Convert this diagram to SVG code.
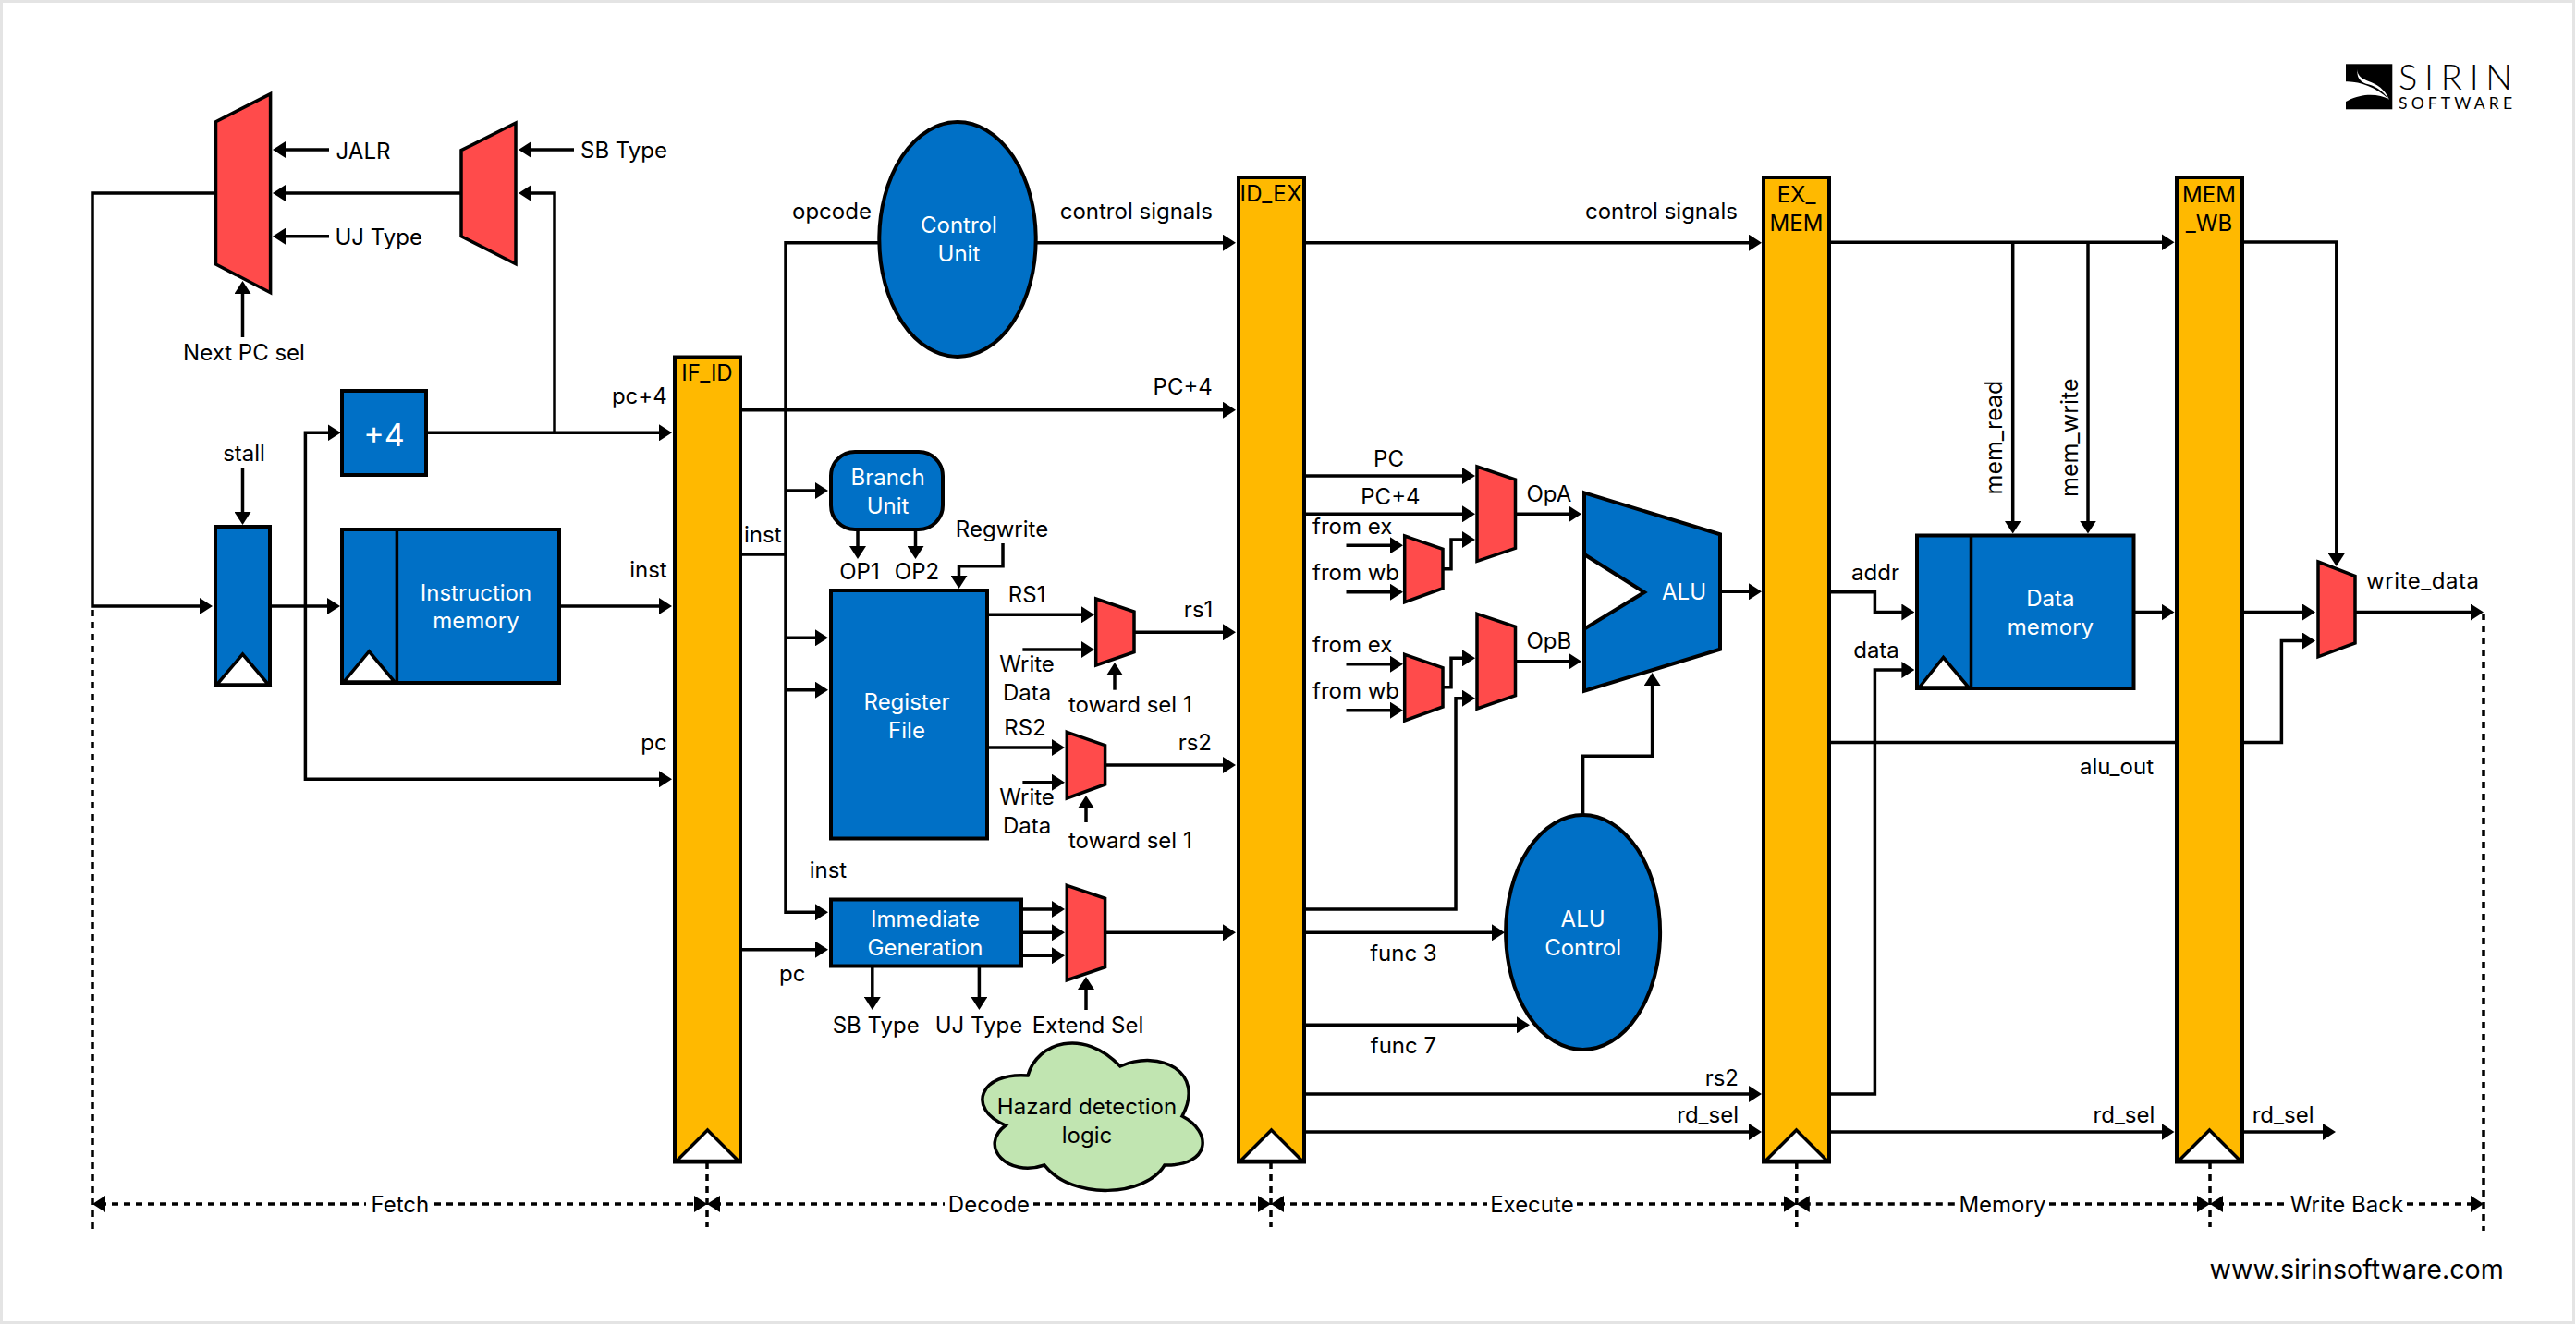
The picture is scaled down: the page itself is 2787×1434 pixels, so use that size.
<svg xmlns="http://www.w3.org/2000/svg" width="2787" height="1434" viewBox="0 0 2787 1434">
<style>
text{font-family:Inter,"Liberation Sans",sans-serif;font-size:24px;fill:#000}
.w{fill:#fff}
.m{text-anchor:middle}
.e{text-anchor:end}
.c path,.c line{fill:none;stroke:#000;stroke-width:3.5}
.a{marker-end:url(#h)}
.d{stroke-dasharray:7 6}
.blue{fill:#0070c6;stroke:#000;stroke-width:4}
.mux{fill:#ff4b4b;stroke:#000;stroke-width:3.5}
.reg{fill:#ffb900;stroke:#000;stroke-width:4}
.tri{fill:#fff;stroke:#000;stroke-width:3.5;stroke-linejoin:miter}
</style>
<defs>
<marker id="h" markerUnits="userSpaceOnUse" markerWidth="14" markerHeight="18" refX="6" refY="9" orient="auto-start-reverse"><path d="M0,0L14,9L0,18Z" fill="#000"/></marker>
</defs>
<rect x="0" y="0" width="2787" height="1434" fill="#fff"/>
<rect x="1.5" y="1.5" width="2783" height="1430" fill="none" stroke="#e4e4e4" stroke-width="3"/>

<g id="connectors" class="c">
<path class="a" d="M233.5,209H100V656H222"/>
<path class="a" d="M499,209H303"/>
<path class="a" d="M356,162H303"/>
<path class="a" d="M356,255.7H303"/>
<path class="a" d="M621,162H569"/>
<path class="a" d="M600,468V209H569"/>
<path class="a" d="M262.5,365V312"/>
<path class="a" d="M262.5,506.7V560"/>
<path class="a" d="M461,468.3H719"/>
<path class="a" d="M293,656H360"/>
<path class="a" d="M330.4,656V468.3H360.7"/>
<path class="a" d="M330.4,656V843.3H719"/>
<path class="a" d="M605,656H719"/>
<path class="a" d="M952,262.7H850V987.3H888"/>
<path d="M801,600H850"/>
<path class="a" d="M850,531H888"/>
<path class="a" d="M850,690.3H888"/>
<path class="a" d="M850,746.7H888"/>
<path class="a" d="M801,1027.7H888"/>
<path class="a" d="M1121,262.7H1329"/>
<path class="a" d="M801,443.7H1329"/>
<path class="a" d="M928,573V597"/>
<path class="a" d="M990.5,573V597"/>
<path class="a" d="M1085,588V612.7H1037.5V629"/>
<path class="a" d="M1068,665.3H1176"/>
<path class="a" d="M1106.4,703H1176"/>
<path class="a" d="M1227,684.3H1329"/>
<path class="a" d="M1206,746.7V725"/>
<path class="a" d="M1068,809H1144"/>
<path class="a" d="M1106.4,846.7H1144"/>
<path class="a" d="M1195.6,828H1329"/>
<path class="a" d="M1175,890V869"/>
<path class="a" d="M1105,984H1144"/>
<path class="a" d="M1105,1009.3H1144"/>
<path class="a" d="M1105,1034.3H1144"/>
<path class="a" d="M943.8,1046V1085"/>
<path class="a" d="M1059.4,1046V1085"/>
<path class="a" d="M1175,1093V1065"/>
<path class="a" d="M1195.6,1009.3H1329"/>
<path class="a" d="M1411,262.7H1898"/>
<path class="a" d="M1411,515H1588"/>
<path class="a" d="M1411,556.3H1588"/>
<path class="a" d="M1456.5,590.3H1510"/>
<path class="a" d="M1456.5,640.7H1510"/>
<path class="a" d="M1456.5,718.7H1510"/>
<path class="a" d="M1456.5,768.7H1510"/>
<path class="a" d="M1561,615.7H1570V584H1588"/>
<path class="a" d="M1561,743.7H1570V712.3H1588"/>
<path class="a" d="M1639.5,556.3H1703"/>
<path class="a" d="M1639.5,715.7H1703"/>
<path class="a" d="M1411,984H1575V755.7H1588"/>
<path class="a" d="M1861,640.3H1898"/>
<path class="a" d="M1712.6,882V818.3H1787.6V736"/>
<path class="a" d="M1411,1009.3H1620"/>
<path class="a" d="M1411,1109.3H1647"/>
<path class="a" d="M1411,1184H1898"/>
<path class="a" d="M1411,1225H1898"/>
<path class="a" d="M1980,262.2H2344.5"/>
<path class="a" d="M2177.7,262V569.6"/>
<path class="a" d="M2259,262V569.6"/>
<path class="a" d="M1980,640.7H2028.4V662.5H2063.4"/>
<path class="a" d="M1980,1184H2028.4V725H2063.4"/>
<path class="a" d="M2308.4,662.5H2344.5"/>
<path d="M1980,803.6H2354"/>
<path class="a" d="M2427,803.6H2468.4V693.5H2497"/>
<path class="a" d="M1980,1225H2344.5"/>
<path class="a" d="M2427,262H2527.8V605"/>
<path class="a" d="M2427,662.5H2497"/>
<path class="a" d="M2548,662.5H2679"/>
<path class="a" d="M2427,1225H2519"/>
<path class="d" d="M100,660V1332"/>
<path class="d" d="M765,1258V1328"/>
<path class="d" d="M1375,1258V1328"/>
<path class="d" d="M1943.8,1258V1328"/>
<path class="d" d="M2391,1258V1328"/>
<path class="d" d="M2687,664V1332"/>
<path class="d" style="marker-start:url(#h)" d="M108,1303H396"/>
<path class="d a" d="M470,1303H757"/>
<path class="d" style="marker-start:url(#h)" d="M773,1303H1022"/>
<path class="d a" d="M1118,1303H1367"/>
<path class="d" style="marker-start:url(#h)" d="M1383,1303H1609"/>
<path class="d a" d="M1706,1303H1935.8"/>
<path class="d" style="marker-start:url(#h)" d="M1951.8,1303H2116"/>
<path class="d a" d="M2217,1303H2383"/>
<path class="d" style="marker-start:url(#h)" d="M2399,1303H2474"/>
<path class="d a" d="M2604,1303H2679"/>
</g>

<g id="mux-pc"><path class="mux" d="M292.6,101.7V316.7L233.5,286V131.7Z"/></g>
<g id="mux-branch"><path class="mux" d="M558,133V285.7L499,255.7V162.7Z"/></g>
<g id="pc-reg"><rect class="blue" x="233" y="570" width="59" height="171"/><path class="tri" d="M262.5,708L290.6,741H234.5Z"/></g>
<g id="plus4"><rect class="blue" x="370" y="423" width="91" height="91"/><text class="w m" x="415.6" y="483" style="font-size:34px">+4</text></g>
<g id="imem"><rect class="blue" x="370" y="573" width="235" height="166"/><path fill="none" stroke="#000" stroke-width="3.5" d="M429.4,573V739"/><path class="tri" d="M399.3,705L427,738H372Z"/><text class="w m" x="515" y="650">Instruction</text><text class="w m" x="515" y="680">memory</text></g>
<g id="if-id"><rect class="reg" x="730" y="386.5" width="71" height="871"/><path class="tri" d="M765.5,1223L799,1256.5H732Z"/><text class="m" x="765" y="412">IF_ID</text></g>
<g id="id-ex"><rect class="reg" x="1340" y="192" width="71" height="1065.5"/><path class="tri" d="M1375.5,1223L1409,1256.5H1342Z"/><text class="m" x="1375" y="218" textLength="67" lengthAdjust="spacing">ID_EX</text></g>
<g id="ex-mem"><rect class="reg" x="1908" y="192" width="71" height="1065.5"/><path class="tri" d="M1943.5,1223L1977,1256.5H1910Z"/><text class="m" x="1943.5" y="218.6">EX_</text><text class="m" x="1943.5" y="249.6">MEM</text></g>
<g id="mem-wb"><rect class="reg" x="2355" y="192" width="71" height="1065.5"/><path class="tri" d="M2390.5,1223L2424,1256.5H2357Z"/><text class="m" x="2390" y="218.6">MEM</text><text class="m" x="2390" y="249.6">_WB</text></g>
<g id="control-unit"><ellipse class="blue" cx="1036" cy="259" rx="84.7" ry="127"/><text class="w m" x="1037.4" y="252.3">Control</text><text class="w m" x="1037.4" y="283.3">Unit</text></g>
<g id="branch-unit"><rect class="blue" x="899" y="489" width="121" height="84" rx="26" ry="26"/><text class="w m" x="960.6" y="525">Branch</text><text class="w m" x="960.6" y="555.7">Unit</text></g>
<g id="register-file"><rect class="blue" x="899" y="639" width="169" height="268.5"/><text class="w m" x="981" y="768">Register</text><text class="w m" x="981" y="799">File</text></g>
<g id="mux-rs1"><path class="mux" d="M1185.7,648L1227,662V705.7L1185.7,720Z"/></g>
<g id="mux-rs2"><path class="mux" d="M1154.3,792.3L1195.6,806.7V849L1154.3,864Z"/></g>
<g id="imm-gen"><rect class="blue" x="899" y="973.5" width="206" height="72"/><text class="w m" x="1001" y="1002.7">Immediate</text><text class="w m" x="1001" y="1034">Generation</text></g>
<g id="mux-imm"><path class="mux" d="M1154.3,958.3L1195.6,972.3V1046.7L1154.3,1060.7Z"/></g>
<g id="hazard"><path fill="#c1e5b1" stroke="#000" stroke-width="3.5" d="M1112,1164C1122,1128 1172,1112 1212,1154C1255,1135 1305,1160 1279,1208C1312,1225 1310,1262 1260,1261C1240,1295 1160,1300 1130,1261C1090,1275 1058,1240 1088,1218C1045,1200 1060,1160 1112,1164Z"/><text class="m" x="1176" y="1205.7">Hazard detection</text><text class="m" x="1176" y="1236.7">logic</text></g>
<g id="mux-a"><path class="mux" d="M1598,505L1639.5,519V593.3L1598,607.3Z"/></g>
<g id="mux-b"><path class="mux" d="M1598,664.3L1639.5,678.3V752.7L1598,767Z"/></g>
<g id="mux-fwd-a"><path class="mux" d="M1519.7,580L1561,594.3V636.7L1519.7,651.7Z"/></g>
<g id="mux-fwd-b"><path class="mux" d="M1519.7,708.3L1561,722.7V765L1519.7,780Z"/></g>
<g id="alu"><path class="blue" d="M1714,533.3L1861,578.3V702.7L1714,747.7Z"/><path class="tri" style="stroke-width:4" d="M1714,600L1779,641L1714,680.7Z"/><text class="w m" x="1822" y="649">ALU</text></g>
<g id="alu-control"><ellipse class="blue" cx="1712.6" cy="1009" rx="83.5" ry="127"/><text class="w m" x="1712.6" y="1002.7">ALU</text><text class="w m" x="1712.6" y="1034">Control</text></g>
<g id="dmem"><rect class="blue" x="2074" y="579.5" width="234.5" height="165.5"/><path fill="none" stroke="#000" stroke-width="3.5" d="M2132.5,579.5V745"/><path class="tri" d="M2102.5,711.5L2130,744H2076.5Z"/><text class="w m" x="2218.4" y="656">Data</text><text class="w m" x="2218.4" y="686.6">memory</text></g>
<g id="mux-wb"><path class="mux" d="M2508,608L2548,623.5V696L2508,710.8Z"/></g>

<g id="labels">
<text x="363.6" y="171.7">JALR</text>
<text x="628" y="171">SB Type</text>
<text x="362.5" y="265">UJ Type</text>
<text class="m" x="264" y="390">Next PC sel</text>
<text class="m" x="264" y="499">stall</text>
<text class="e" x="721.7" y="437">pc+4</text>
<text class="e" x="721.7" y="625">inst</text>
<text class="e" x="721.7" y="811.7">pc</text>
<text x="805" y="586.7">inst</text>
<text x="857" y="236.7">opcode</text>
<text class="e" x="1311.8" y="236.7">control signals</text>
<text class="e" x="1311.8" y="427.3">PC+4</text>
<text class="m" x="930" y="627">OP1</text>
<text class="m" x="992" y="627">OP2</text>
<text class="m" x="1084" y="580.7">Regwrite</text>
<text class="m" x="1111" y="652">RS1</text>
<text class="m" x="1296.6" y="668">rs1</text>
<text class="m" x="1111" y="727.3">Write</text>
<text class="m" x="1111" y="758.3">Data</text>
<text class="m" x="1222.8" y="771">toward sel 1</text>
<text class="m" x="1109" y="796">RS2</text>
<text class="m" x="1292.8" y="812">rs2</text>
<text class="m" x="1111" y="870.7">Write</text>
<text class="m" x="1111" y="902">Data</text>
<text class="m" x="1222.8" y="917.7">toward sel 1</text>
<text x="875.7" y="950">inst</text>
<text x="843" y="1061.7">pc</text>
<text class="m" x="947.7" y="1118">SB Type</text>
<text class="m" x="1059" y="1118">UJ Type</text>
<text class="m" x="1177" y="1118">Extend Sel</text>
<text class="e" x="1880" y="236.7">control signals</text>
<text class="m" x="1502.5" y="505">PC</text>
<text class="m" x="1504.4" y="546">PC+4</text>
<text x="1420" y="577.7">from ex</text>
<text x="1420" y="627.7">from wb</text>
<text x="1420" y="706">from ex</text>
<text x="1420" y="756">from wb</text>
<text class="m" x="1675.8" y="543.3">OpA</text>
<text class="m" x="1675.8" y="702.3">OpB</text>
<text class="m" x="1518.4" y="1040">func 3</text>
<text class="m" x="1518.4" y="1140">func 7</text>
<text class="e" x="1881" y="1175">rs2</text>
<text class="e" x="1881" y="1215">rd_sel</text>
<text class="m" x="2029" y="628">addr</text>
<text class="m" x="2030" y="711.5">data</text>
<text style="font-size:25px" transform="translate(2165.8,535.5) rotate(-90)">mem_read</text>
<text style="font-size:25px" transform="translate(2247.8,538) rotate(-90)">mem_write</text>
<text class="e" x="2330" y="838">alu_out</text>
<text class="e" x="2331.3" y="1215">rd_sel</text>
<text x="2436.7" y="1215">rd_sel</text>
<text x="2560" y="637" textLength="122" lengthAdjust="spacing">write_data</text>
<text class="m" x="432.8" y="1311.7">Fetch</text>
<text class="m" x="1069.9" y="1311.7">Decode</text>
<text class="m" x="1657.4" y="1311.7">Execute</text>
<text class="m" x="2166.4" y="1311.7">Memory</text>
<text class="m" x="2538.9" y="1311.7">Write Back</text>
<text x="2390.6" y="1384" style="font-size:28.6px">www.sirinsoftware.com</text>
</g>

<g id="logo">
<rect x="2538" y="69.3" width="50.3" height="49" fill="#000"/>
<path fill="#fff" d="M2538,88.3C2553.3,88.3 2568.3,93.3 2585,107.7C2573.3,101.7 2556.7,100 2538,110Z"/>
<path fill="#fff" d="M2550.7,75C2550,81.7 2555,85 2563.3,88.3C2571.7,91 2580,96.7 2585,107.7C2576.7,96.7 2568.3,92.3 2560,90.7C2553.3,88.3 2549.3,83.3 2550.7,75Z"/>
<text x="2595" y="96.7" textLength="123" lengthAdjust="spacing" style="font-family:Lato,'Liberation Sans',sans-serif;font-size:38px;font-weight:300">SIRIN</text>
<text x="2595" y="117.7" textLength="123" lengthAdjust="spacing" style="font-family:Lato,'Liberation Sans',sans-serif;font-size:17.5px">SOFTWARE</text>
</g>
</svg>
